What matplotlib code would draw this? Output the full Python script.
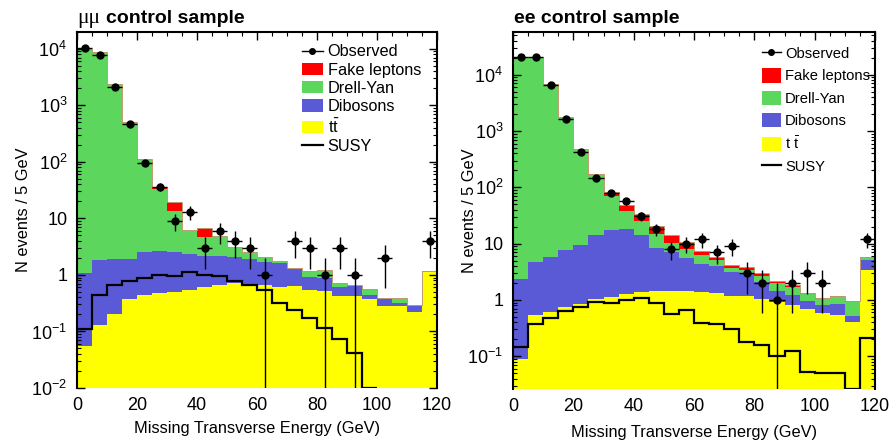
import numpy as np
import matplotlib
matplotlib.use('Agg')
import matplotlib.pyplot as plt
from matplotlib.ticker import FixedLocator, FuncFormatter, MultipleLocator, NullFormatter
from matplotlib.patches import Patch
from matplotlib.lines import Line2D

plt.rcParams['font.family'] = ['Liberation Sans', 'DejaVu Sans']
plt.rcParams['mathtext.fontset'] = 'custom'
plt.rcParams['mathtext.rm'] = 'Liberation Sans'
plt.rcParams['mathtext.it'] = 'Liberation Sans:italic'
plt.rcParams['mathtext.bf'] = 'Liberation Sans:bold'

# 24 bins of 5 GeV, last one is the overflow
edges = np.arange(0, 125, 5)
centers = edges[:-1] + 2.5

# mu mu control sample
mm_obs = [10300, 7800, 2100, 470, 97, 36, 9, 13, 3, 6, 4, 3, 1, 0, 4, 3, 1, 3, 1, 0, 2, 0, 0, 4]
mm_fake = [0, 0, 0, 0, 2.0, 3.6, 6.1, 0, 2.1, 0, 0, 0, 0, 0, 0, 0, 0, 0, 0, 0, 0, 0, 0, 0.01]
mm_dy = [9800, 8700, 2370, 495, 107, 30.4, 11.2, 3.9, 2.5, 2.7, 1.1, 0.67, 0.34, 0.15, 0.03, 0.25,
         0.33, 0.13, 0.02, 0.12, 0.0, 0.07, 0.0, 0.02]
mm_dib = [1.04, 1.71, 1.70, 1.52, 2.08, 2.15, 2.02, 1.78, 1.56, 1.52, 1.34, 1.21, 1.06, 1.00, 0.69,
          0.39, 0.36, 0.17, 0.22, 0.07, 0.105, 0.04, 0.076, 0.04]
mm_tt = [0.056, 0.13, 0.20, 0.38, 0.44, 0.47, 0.50, 0.55, 0.62, 0.66, 0.72, 0.70, 0.66, 0.62, 0.63,
         0.54, 0.52, 0.43, 0.42, 0.37, 0.285, 0.28, 0.22, 1.12]
mm_susy = [0.11, 0.45, 0.66, 0.78, 0.89, 1.0, 0.95, 1.13, 1.0, 0.95, 0.77, 0.66, 0.55, 0.32, 0.24,
           0.17, 0.115, 0.073, 0.041, 0, 0, 0, 0, 0]

# e e control sample
ee_obs = [21000, 20300, 6450, 1630, 433, 146, 79, 57, 31, 18, 8, 10, 12, 7, 9, 3, 2, 1, 2, 3, 2, 0, 0, 12]
ee_fake = [0, 0, 15, 8, 3, 9, 11, 10.7, 8.4, 5.8, 3.6, 2.5, 1.2, 0.6, 0.44, 0.5, 0.27, 0.15, 0.13,
           0.09, 0.06, 0.04, 0.04, 0.16]
ee_dy = [20600, 20300, 6830, 1780, 470, 153, 53.9, 20.1, 11.4, 6.4, 3.2, 2.55, 1.83, 1.19, 0.57,
         0.39, 0.60, 0.58, 0.49, 0.29, 0.23, 0.30, 0.41, 0.60]
ee_dib = [2.24, 4.26, 5.3, 6.86, 8.64, 12.96, 16.37, 16.84, 12.6, 7.04, 5.78, 4.2, 3.0, 2.6, 2.0,
          1.84, 1.06, 0.52, 0.42, 0.29, 0.22, 0.30, 0.11, 1.73]
ee_tt = [0.088, 0.54, 0.60, 0.74, 0.86, 1.04, 1.13, 1.26, 1.40, 1.46, 1.42, 1.45, 1.37, 1.35, 1.18,
         1.18, 1.05, 0.93, 0.81, 0.68, 0.59, 0.55, 0.41, 3.41]
ee_susy = [0.148, 0.37, 0.47, 0.63, 0.74, 0.93, 0.885, 0.99, 1.07, 0.90, 0.56, 0.66, 0.39, 0.37,
           0.31, 0.18, 0.16, 0.102, 0.126, 0.053, 0.050, 0.050, 0, 0.21]

c_fake = '#ff0000'
c_dy = '#5cd65c'
c_dib = '#5a5ad6'
c_tt = '#ffff00'


def fmt_pow(v, pos):
    e = int(round(np.log10(v)))
    if e == 0:
        return '1'
    if e == 1:
        return '10'
    return r'$\mathregular{10^{%d}}$' % e


def draw_panel(ax, obs, fake, dy, dib, tt, susy, ylo, yhi):
    # stacked backgrounds
    base = np.full(len(tt), 1e-4)
    for vals, col in [(tt, c_tt), (dib, c_dib), (dy, c_dy), (fake, c_fake)]:
        top = base + np.asarray(vals, float)
        ax.stairs(top, edges, baseline=base, fill=True, color=col, lw=0)
        base = top
    ax.stairs(base, edges, baseline=None, color='#c09a70', lw=0.7)

    # SUSY signal, empty bins drawn on the floor
    susy = np.asarray(susy, float)
    last = min(np.nonzero(susy)[0][-1] + 2, len(susy))
    s = np.where(susy > 0, susy, ylo)
    ax.stairs(s[:last], edges[:last + 1], baseline=None, color='k', lw=1.6, zorder=4)

    # data
    obs = np.asarray(obs, float)
    m = obs > 0
    ax.errorbar(centers[m], obs[m], xerr=2.5, yerr=np.sqrt(obs[m]), fmt='o', color='k',
                ms=5, lw=1, capsize=0, zorder=5)

    ax.set_yscale('log', nonpositive='clip')
    ax.set_xlim(0, 120)
    ax.set_ylim(ylo, yhi)
    # only ticks inside the visible range
    decades = np.arange(-3, 6)
    major = [10.0 ** d for d in decades if ylo * 0.999 <= 10.0 ** d <= yhi]
    minor = [k * 10.0 ** d for d in decades for k in range(2, 10) if ylo <= k * 10.0 ** d <= yhi]
    ax.xaxis.set_major_locator(MultipleLocator(20))
    ax.xaxis.set_minor_locator(MultipleLocator(5))
    ax.yaxis.set_major_locator(FixedLocator(major))
    ax.yaxis.set_minor_locator(FixedLocator(minor))
    ax.yaxis.set_minor_formatter(NullFormatter())
    ax.yaxis.set_major_formatter(FuncFormatter(fmt_pow))
    ax.tick_params(which='both', direction='in', top=True, right=True, bottom=False, labelsize=13)
    ax.tick_params(which='major', length=6, width=1)
    ax.tick_params(which='minor', length=3, width=0.8)
    ax.tick_params(axis='x', pad=6.5)
    ax.tick_params(axis='y', pad=7)
    for sp in ax.spines.values():
        sp.set_linewidth(1.5)
    ax.spines['bottom'].set_visible(False)
    ax.set_xlabel('Missing Transverse Energy (GeV)', fontsize=11.8)
    ax.set_ylabel('N events / 5 GeV', fontsize=11.8)


def add_legend(ax, tt_label, anchor, fs, ls, hh):
    handles = [Line2D([], [], color='k', marker='o', ms=4, lw=1),
               Patch(fc=c_fake), Patch(fc=c_dy), Patch(fc=c_dib), Patch(fc=c_tt),
               Line2D([], [], color='k', lw=1.6)]
    labels = ['Observed', 'Fake leptons', 'Drell-Yan', 'Dibosons', tt_label, 'SUSY']
    ax.legend(handles, labels, loc='upper left', bbox_to_anchor=anchor, frameon=False,
              fontsize=fs, borderpad=0, borderaxespad=0, labelspacing=ls,
              handlelength=1.3, handleheight=hh, handletextpad=0.3)


W, H = 896, 444
fig = plt.figure(figsize=(W / 100, H / 100), dpi=100)
ax1 = fig.add_axes([77 / W, 1 - 388 / H, 360 / W, 356 / H])
ax2 = fig.add_axes([513 / W, 1 - 389 / H, 362 / W, 357 / H])

draw_panel(ax1, mm_obs, mm_fake, mm_dy, mm_dib, mm_tt, mm_susy, 0.01, 1.98e4)
draw_panel(ax2, ee_obs, ee_fake, ee_dy, ee_dib, ee_tt, ee_susy, 0.0262, 5.75e4)

ax1.xaxis.set_label_coords(0.5, -0.093)
ax2.xaxis.set_label_coords(0.5, -0.101)
ax1.yaxis.set_label_coords(-0.128, 0.5)
ax2.yaxis.set_label_coords(-0.100, 0.5)

add_legend(ax1, r'$\mathregular{t\bar{t}}$', (0.624, 0.965), 11.7, 0.2, 0.78)
add_legend(ax2, r'$\mathregular{t\ \bar{t}}$', (0.687, 0.960), 10.6, 0.48, 1.1)

# titles
fig.text(77 / W, 1 - 22.7 / H, 'μμ', family=['Liberation Serif', 'DejaVu Serif'], fontsize=15.5,
         va='baseline')
fig.text(106 / W, 1 - 22.7 / H, 'control sample', fontsize=14, fontweight='bold', va='baseline')
fig.text(514 / W, 1 - 22.7 / H, 'ee control sample', fontsize=14, fontweight='bold', va='baseline')

fig.savefig('out.png', dpi=100)
